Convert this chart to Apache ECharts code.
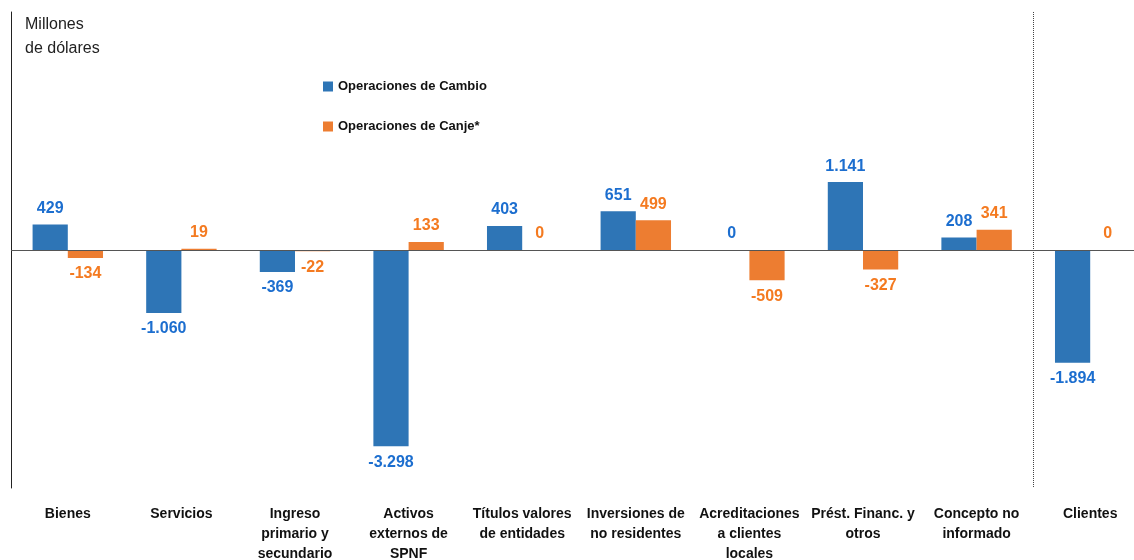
<!DOCTYPE html>
<html>
<head>
<meta charset="utf-8">
<script src="https://cdn.jsdelivr.net/npm/echarts@6/dist/echarts.min.js"></script>
<style>
  html, body { margin: 0; padding: 0; background: #fff; }
  #chart { width: 1134px; height: 560px; }
</style>
</head>
<body>
<div id="chart"></div>
<script>
  // categorías (con saltos de línea como en el original)
  const categories = [
    'Bienes', 'Servicios', 'Ingreso\nprimario y\nsecundario', 'Activos\nexternos de\nSPNF',
    'Títulos valores\nde entidades', 'Inversiones de\nno residentes', 'Acreditaciones\na clientes\nlocales',
    'Prést. Financ. y\notros', 'Concepto no\ninformado', 'Clientes'
  ];
  const cambio = [429, -1060, -369, -3298, 403, 651, 0, 1141, 208, -1894];
  const canje = [-134, 19, -22, 133, 0, 499, -509, -327, 341, 0];

  const font = 'Liberation Sans, Arial, sans-serif';

  // separador de miles con punto
  function fmt(v) {
    let s = String(Math.abs(v)).replace(/\B(?=(\d{3})+(?!\d))/g, '.');
    return (v < 0 ? '-' : '') + s;
  }

  function labelData(values, color) {
    return values.map(function (v) {
      return {
        value: v,
        label: {
          show: true,
          position: v < 0 ? 'bottom' : 'top',
          distance: 8,
          color: color,
          fontWeight: 'bold',
          fontSize: 16,
          fontFamily: font,
          formatter: function (p) { return fmt(p.value); }
        }
      };
    });
  }

  const chart = echarts.init(document.getElementById('chart'));
  chart.setOption({
    animation: false,
    title: {
      text: 'Millones\nde dólares',
      left: 20, top: 8,
      textStyle: { fontSize: 16, fontWeight: 'normal', color: '#222', fontFamily: font, lineHeight: 24 }
    },
    legend: {
      orient: 'vertical',
      left: 318, top: 75,
      itemWidth: 10, itemHeight: 10, itemGap: 27,
      icon: 'rect',
      textStyle: { fontSize: 13, fontWeight: 'bold', color: '#111', fontFamily: font },
      data: ['Operaciones de Cambio', 'Operaciones de Canje*']
    },
    grid: { left: 11, top: 12, width: 1136, height: 476, containLabel: false, outerBoundsMode: 'none' },
    xAxis: {
      type: 'category',
      data: categories,
      axisLine: { show: false, onZero: false },
      axisTick: { show: false },
      axisLabel: {
        interval: 0, margin: 16,
        fontSize: 14, fontWeight: 'bold', color: '#111', fontFamily: font, lineHeight: 20
      },
      // sólo la línea punteada antes de "Clientes" (índices 0 y 9)
      splitLine: {
        show: true,
        interval: 8,
        lineStyle: { type: 'dotted', color: '#444', width: 1 }
      }
    },
    yAxis: {
      type: 'value',
      min: -4000, max: 4000,
      axisLine: { show: true, lineStyle: { color: '#222', width: 1 } },
      axisTick: { show: false },
      axisLabel: { show: false },
      splitLine: { show: false }
    },
    series: [
      {
        name: 'Operaciones de Cambio',
        type: 'bar',
        barWidth: '31%',
        barGap: '0%',
        itemStyle: { color: '#2e75b6' },
        data: labelData(cambio, '#1c6ecf'),
        markLine: {
          silent: true,
          symbol: 'none',
          label: { show: false },
          lineStyle: { type: 'solid', color: '#555', width: 1 },
          data: [{ yAxis: 0 }]
        }
      },
      {
        name: 'Operaciones de Canje*',
        type: 'bar',
        barWidth: '31%',
        barGap: '0%',
        itemStyle: { color: '#ed7d31' },
        data: labelData(canje, '#f47a20')
      }
    ]
  });
</script>
</body>
</html>
